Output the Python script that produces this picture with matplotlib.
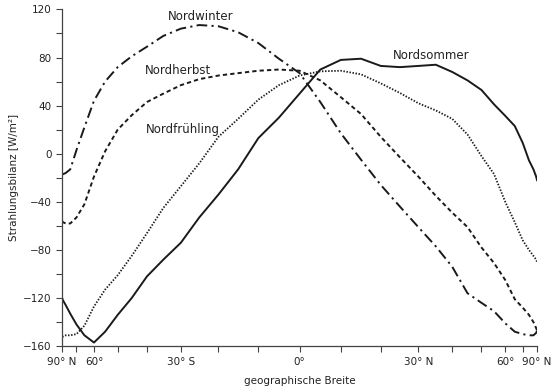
import numpy as np
import matplotlib
matplotlib.use("Agg")
import matplotlib.pyplot as plt

plt.rcParams['font.family'] = ['Liberation Sans Narrow', 'DejaVu Sans']

# Breitengrade (Grad), Süd negativ
breite = [-90, -85, -80, -75, -70, -65, -60, -55, -50, -45, -40, -35, -30, -25, -20, -15, -10, -5,
          0, 5, 10, 15, 20, 25, 30, 35, 40, 45, 50, 55, 60, 65, 70, 75, 80, 85, 90]

# Strahlungsbilanz W/m^2
nordwinter = [-17, -17, -16, -13, 3, 22, 44, 60, 72, 81, 89, 98, 104, 107, 106, 101, 92, 79,
              67, 43, 17, -5, -26, -44, -61, -77, -94, -116, -124, -131, -141, -148, -150, -151, -151, -149, -147]
nordherbst = [-56, -57, -58, -58, -53, -42, -19, 2, 20, 32, 43, 50, 57, 62, 65, 67, 69, 70,
              69, 61, 47, 33, 14, -3, -19, -35, -49, -61, -78, -91, -105, -121, -128, -134, -140, -145, -147]
nordfruehling = [-152, -152, -151, -151, -150, -143, -127, -113, -101, -85, -66, -45, -27, -8, 14, 29, 45, 57,
                 65, 68.5, 69, 66, 58.5, 50.5, 42, 36, 29, 16, -2, -17, -40, -57, -72, -80, -85, -88, -90]
nordsommer = [-120, -122, -126, -133, -142, -151, -157, -148, -134, -120, -102, -88, -74, -53, -34, -13, 13, 30,
              50, 70, 78, 79, 73, 72, 73, 74, 68, 61, 53, 41, 31.5, 23, 9, -5.5, -13, -19, -22]

x_ticks = [-90, -70, -60, -50, -40, -30, -20, -10, 0, 10, 20, 30, 40, 50, 60, 70, 90]
x_labels = {-90: "90° N", -60: "60°", -30: "30° S", 0: "0°", 30: "30° N", 60: "60°", 90: "90° N"}


def vor(x):
    return np.sin(np.deg2rad(x))


def zurueck(y):
    return np.rad2deg(np.arcsin(np.clip(y, -1, 1)))


fig = plt.figure(figsize=(5.6, 3.92), dpi=100)
ax = fig.add_axes([0.111, 0.117, 0.848, 0.859])
ax.set_xscale('function', functions=(vor, zurueck))

farbe = '#1a1a1a'
ax.plot(breite, nordsommer, color=farbe, lw=1.4)
ax.plot(breite, nordwinter, color=farbe, lw=1.4, dashes=(5.5, 2.2, 1.1, 2.2))
ax.plot(breite, nordherbst, color=farbe, lw=1.4, dashes=(2.2, 1.6))
ax.plot(breite, nordfruehling, color=farbe, lw=1.3, dashes=(0.8, 0.9))

ax.set_xlim(-90, 90)
ax.set_ylim(-160, 120)

ax.set_xticks(x_ticks)
ax.set_xticklabels([x_labels.get(t, "") for t in x_ticks])
ax.set_yticks(range(-160, 121, 40))
ax.set_yticks(range(-160, 121, 20), minor=True)
ax.tick_params(axis='both', direction='out', length=4, width=0.8, colors='#444444', labelsize=7.5,
               labelcolor='#222222')
ax.tick_params(axis='y', which='minor', length=4, width=0.8, colors='#444444')

for s in ['top', 'right']:
    ax.spines[s].set_visible(False)
for s in ['left', 'bottom']:
    ax.spines[s].set_color('#444444')
    ax.spines[s].set_linewidth(0.9)

ax.set_ylabel("Strahlungsbilanz [W/m²]", fontsize=7.5, color='#222222')
ax.set_xlabel("geographische Breite", fontsize=7.5, color='#222222')
ax.yaxis.set_label_coords(-0.09, 0.5)
ax.xaxis.set_label_coords(0.5, -0.09)

ax.text(-24.5, 114.5, "Nordwinter", fontsize=8.5, ha='center', va='center', color='#222222')
ax.text(-30.8, 69, "Nordherbst", fontsize=8.5, ha='center', va='center', color='#222222')
ax.text(-29.5, 20.5, "Nordfrühling", fontsize=8.5, ha='center', va='center', color='#222222')
ax.text(33.8, 82, "Nordsommer", fontsize=8.5, ha='center', va='center', color='#222222')

fig.savefig("out.png", dpi=100)
